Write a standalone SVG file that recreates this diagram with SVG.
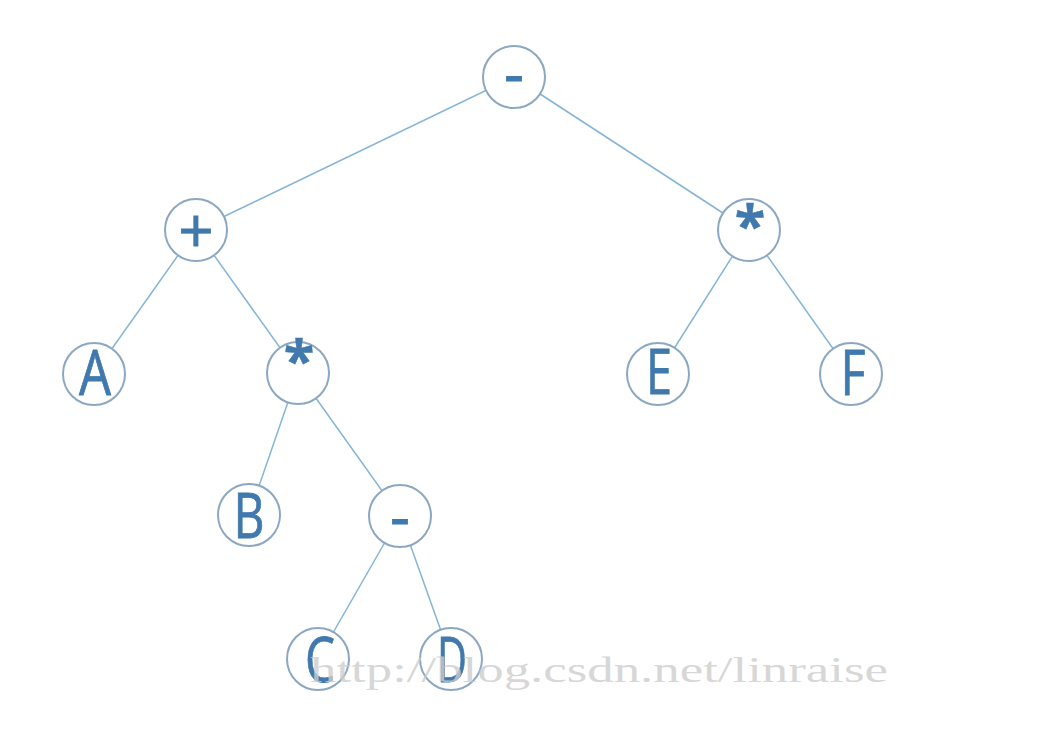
<svg xmlns="http://www.w3.org/2000/svg" width="1046" height="750" viewBox="0 0 1046 750">
  <style>
    .edge { stroke: #84b4d8; stroke-width: 1.5; fill: none; }
    .node circle { fill: #ffffff; stroke: #8ba7c2; stroke-width: 2; }
    .lbl { font-family: "Open Sans", "Liberation Sans", sans-serif; fill: #4079ad; stroke: #4079ad; stroke-width: 0.8; text-anchor: middle; }
    .big { font-size: 62px; }
    .op { font-size: 62px; }
    .star { font-size: 56px; font-weight: bold; stroke-width: 0.4; }
    .mark { font-family: "Liberation Serif", "DejaVu Serif", serif; font-size: 36px; fill: #cdcdcd; fill-opacity: 0.8; }
  </style>
  <rect width="1046" height="750" fill="#ffffff"/>

  <!-- tree edges, centre to centre; circles cover the inner parts -->
  <g id="edges">
    <line class="edge" x1="514" y1="77" x2="196" y2="230"/>
    <line class="edge" x1="514" y1="77" x2="749" y2="230"/>
    <line class="edge" x1="196" y1="230" x2="94" y2="374"/>
    <line class="edge" x1="196" y1="230" x2="298" y2="373"/>
    <line class="edge" x1="749" y1="230" x2="658" y2="374"/>
    <line class="edge" x1="749" y1="230" x2="851" y2="374"/>
    <line class="edge" x1="298" y1="373" x2="249" y2="515"/>
    <line class="edge" x1="298" y1="373" x2="400" y2="516"/>
    <line class="edge" x1="400" y1="516" x2="318" y2="659"/>
    <line class="edge" x1="400" y1="516" x2="451" y2="659"/>
  </g>

  <g id="n-root" class="node">
    <circle cx="514" cy="77" r="31"/>
    <text class="lbl op" x="514" y="96">-</text>
  </g>
  <g id="n-plus" class="node">
    <circle cx="196" cy="230" r="31"/>
    <text class="lbl op" x="196" y="253">+</text>
  </g>
  <g id="n-mul-right" class="node">
    <circle cx="749" cy="230" r="31"/>
    <text class="lbl star" x="750" y="245">*</text>
  </g>
  <g id="n-a" class="node">
    <circle cx="94" cy="374" r="31"/>
    <text class="lbl big" x="95" y="395" textLength="32" lengthAdjust="spacingAndGlyphs">A</text>
  </g>
  <g id="n-mul-left" class="node">
    <circle cx="298" cy="373" r="31"/>
    <text class="lbl star" x="299" y="380">*</text>
  </g>
  <g id="n-e" class="node">
    <circle cx="658" cy="374" r="31"/>
    <text class="lbl big" x="659" y="394" textLength="26" lengthAdjust="spacingAndGlyphs">E</text>
  </g>
  <g id="n-f" class="node">
    <circle cx="851" cy="374" r="31"/>
    <text class="lbl big" x="853" y="395" textLength="25" lengthAdjust="spacingAndGlyphs">F</text>
  </g>
  <g id="n-b" class="node">
    <circle cx="249" cy="515" r="31"/>
    <text class="lbl big" x="249" y="538" textLength="31" lengthAdjust="spacingAndGlyphs">B</text>
  </g>
  <g id="n-minus" class="node">
    <circle cx="400" cy="516" r="31"/>
    <text class="lbl op" x="400" y="539">-</text>
  </g>
  <g id="n-c" class="node">
    <circle cx="318" cy="659" r="31"/>
    <text class="lbl big" x="320" y="682" textLength="30" lengthAdjust="spacingAndGlyphs">C</text>
  </g>
  <g id="n-d" class="node">
    <circle cx="451" cy="659" r="31"/>
    <text class="lbl big" x="452" y="682" textLength="30" lengthAdjust="spacingAndGlyphs">D</text>
  </g>

  <text class="mark" x="310" y="682" textLength="578" lengthAdjust="spacingAndGlyphs">http://blog.csdn.net/linraise</text>
</svg>
